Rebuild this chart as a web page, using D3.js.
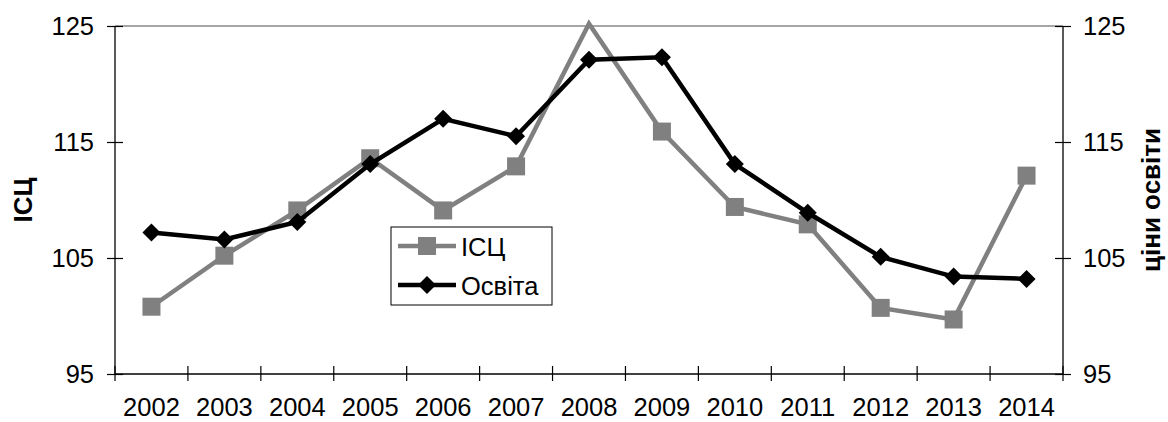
<!DOCTYPE html>
<html><head><meta charset="utf-8">
<script src="https://cdn.jsdelivr.net/npm/d3@7/dist/d3.min.js"></script>
<style>body{margin:0;background:#fff}svg{display:block}text{font-family:"Liberation Sans",Arial,sans-serif}</style>
</head><body>
<script>
const years = ["2002","2003","2004","2005","2006","2007","2008","2009","2010","2011","2012","2013","2014"];
const cpi = [100.8,105.2,109.1,113.6,109.1,112.9,125.2,115.9,109.4,107.9,100.7,99.7,112.1];
const edu = [107.2,106.6,108.1,113.1,117.0,115.5,122.1,122.3,113.1,108.9,105.1,103.4,103.2];
const yTicks = [95,105,115,125];
const seriesNames = ["ІСЦ","Освіта"];
const leftTitle = "ІСЦ";
const rightTitle = "ціни освіти";

const W=1168,H=422;
const L=115,R=1063,T=26,B=374;
const FS="25.5px";
const svg=d3.select("body").append("svg").attr("width",W).attr("height",H);
const x=d3.scaleBand().domain(years).range([L,R]).padding(0);
const y=d3.scaleLinear().domain([95,125]).range([B,T]);

// top border
svg.append("line").attr("x1",L).attr("x2",R).attr("y1",y(125)).attr("y2",y(125)).attr("stroke","#888").attr("stroke-width",1.6);

// left axis
const gl=svg.append("g").attr("transform",`translate(${L},0)`).call(d3.axisLeft(y).tickValues(yTicks).tickSize(8).tickPadding(13));
gl.select(".domain").attr("stroke","#000").attr("stroke-width",1.3).attr("d",`M0,${T}V${B}`);
gl.selectAll(".tick line").attr("x1",-8).attr("x2",8).attr("stroke","#000").attr("stroke-width",1.2);
gl.selectAll(".tick text").style("font-size",FS).attr("fill","#000").attr("dy","0.35em");

// right axis
const gr=svg.append("g").attr("transform",`translate(${R},0)`).call(d3.axisRight(y).tickValues(yTicks).tickSize(8).tickPadding(12));
gr.select(".domain").attr("stroke","#000").attr("stroke-width",1.3).attr("d",`M0,${T}V${B}`);
gr.selectAll(".tick line").attr("x1",-8).attr("x2",8).attr("stroke","#000").attr("stroke-width",1.2);
gr.selectAll(".tick text").style("font-size",FS).attr("fill","#000").attr("dy","0.35em");

// bottom axis
const gb=svg.append("g").attr("transform",`translate(0,${B})`).call(d3.axisBottom(x).tickSize(0).tickPadding(23.5));
gb.select(".domain").attr("stroke","#000").attr("stroke-width",1.3).attr("d",`M${L},0H${R}`);
gb.selectAll(".tick text").style("font-size",FS).attr("fill","#000");
const bounds=years.map(d=>x(d)).concat([x.range()[1]]);
gb.selectAll("line.cross").data(bounds).join("line").attr("class","cross")
  .attr("x1",d=>d).attr("x2",d=>d).attr("y1",-8).attr("y2",7).attr("stroke","#000").attr("stroke-width",1.2);

// titles
svg.append("text").attr("transform",`translate(32,${(T+B)/2}) rotate(-90)`).attr("text-anchor","middle")
  .style("font-size","26px").attr("font-weight","bold").text(leftTitle);
svg.append("text").attr("transform",`translate(1160,${(T+B)/2}) rotate(-90)`).attr("text-anchor","middle")
  .style("font-size","26px").attr("font-weight","bold").text(rightTitle);

const cx=d=>x(d)+x.bandwidth()/2;
const line=d3.line().x((v,i)=>cx(years[i])).y(v=>y(v));
const sq=9, dm=9;

svg.append("path").datum(cpi).attr("d",line).attr("fill","none").attr("stroke","#808080").attr("stroke-width",4.5);
svg.append("g").selectAll("rect").data(cpi.map((v,i)=>({v,i})).filter(d=>d.v<=125)).join("rect")
  .attr("x",d=>cx(years[d.i])-sq).attr("y",d=>y(d.v)-sq).attr("width",sq*2).attr("height",sq*2).attr("fill","#808080");

svg.append("path").datum(edu).attr("d",line).attr("fill","none").attr("stroke","#000").attr("stroke-width",4.5);
const diamond=(px,py)=>`M${px},${py-dm}L${px+dm},${py}L${px},${py+dm}L${px-dm},${py}Z`;
svg.append("g").selectAll("path").data(edu.map((v,i)=>({v,i}))).join("path")
  .attr("d",d=>diamond(cx(years[d.i]),y(d.v))).attr("fill","#000");

// legend
const lg=svg.append("g");
lg.append("rect").attr("x",391).attr("y",227).attr("width",161).attr("height",78).attr("fill","#fff").attr("stroke","#000").attr("stroke-width",1);
const ly=[246,285];
lg.append("line").attr("x1",398).attr("x2",456).attr("y1",ly[0]).attr("y2",ly[0]).attr("stroke","#808080").attr("stroke-width",4.5);
lg.append("rect").attr("x",427-sq).attr("y",ly[0]-sq).attr("width",sq*2).attr("height",sq*2).attr("fill","#808080");
lg.append("line").attr("x1",398).attr("x2",456).attr("y1",ly[1]).attr("y2",ly[1]).attr("stroke","#000").attr("stroke-width",4.5);
lg.append("path").attr("d",diamond(427,ly[1])).attr("fill","#000");
lg.selectAll("text").data(seriesNames).join("text").attr("x",461).attr("y",(d,i)=>ly[i]+10).style("font-size",FS).text(d=>d);
</script>
</body></html>
